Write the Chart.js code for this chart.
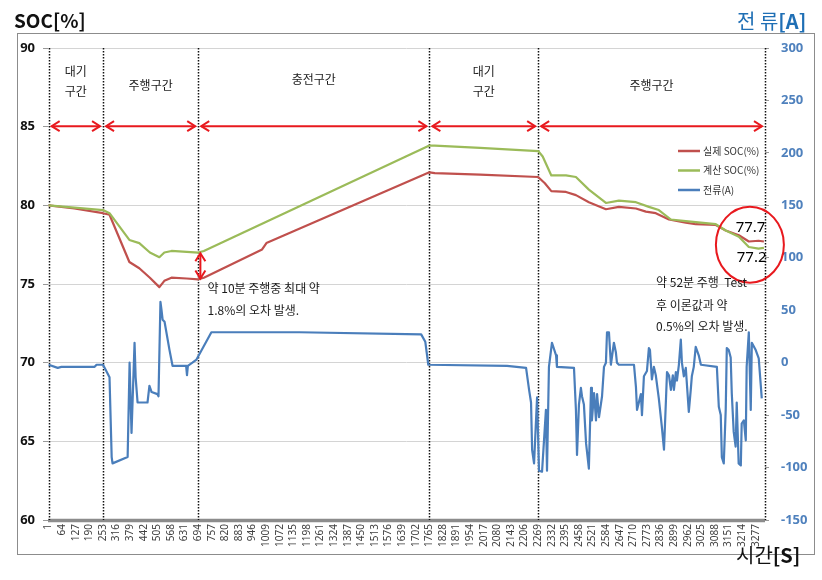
<!DOCTYPE html>
<html>
<head>
<meta charset="utf-8">
<script src="https://cdn.jsdelivr.net/npm/chart.js@4.4.1/dist/chart.umd.min.js"></script>
<style>
html, body { margin: 0; padding: 0; background: #fff; }
#wrap { position: relative; width: 822px; height: 580px; }
</style>
</head>
<body>
<div id="wrap"><canvas id="socChart" width="822" height="580"></canvas></div>
<script>
// x tick labels (seconds)
var tickTimes = [1,64,127,190,253,316,379,442,505,568,631,694,757,820,883,946,1009,1072,1135,1198,
  1261,1324,1387,1450,1513,1576,1639,1702,1765,1828,1891,1954,2017,2080,2143,2206,2269,2332,2395,
  2458,2521,2584,2647,2710,2773,2836,2899,2962,3025,3088,3151,3214,3277];

// section boundaries and names
var sectionBounds = [1, 253, 694, 1765, 2269, 3320];
var sectionNames = [["대기", "구간"], ["주행구간"], ["충전구간"], ["대기", "구간"], ["주행구간"]];

// 실제 SOC(%)
var realTime = [1,120,253,283,375,421,470,514,537,570,640,694,720,990,1010,1765,1790,2000,2269,2300,2330,
  2398,2444,2504,2583,2643,2722,2768,2814,2875,2953,2999,3092,3138,3199,3245,3290,3315];
var realSoc = [80.0,79.8,79.5,79.4,76.4,76.0,75.4,74.8,75.2,75.4,75.35,75.3,75.4,77.2,77.6,82.1,82.05,81.95,81.8,81.4,80.9,
  80.85,80.65,80.2,79.75,79.9,79.8,79.6,79.5,79.1,78.9,78.8,78.75,78.4,78.1,77.7,77.75,77.7];

// 계산 SOC(%)
var calcTime = [1,253,283,375,421,470,514,537,570,694,720,1765,1790,2000,2269,2290,2330,2398,2444,2504,
  2583,2643,2722,2782,2828,2884,2953,3092,3138,3199,3245,3290,3315];
var calcSoc = [80.0,79.7,79.5,77.8,77.6,77.0,76.7,77.0,77.1,77.0,77.1,83.8,83.8,83.65,83.45,83.1,81.9,81.9,81.8,81.0,
  80.15,80.3,80.2,79.9,79.7,79.1,79.0,78.8,78.4,78.0,77.35,77.25,77.3];

// 전류(A)
var curTime = [1,43,60,214,223,253,283,293,297,367,376,385,399,404,413,459,468,478,505,510,519,524,529,538,561,575,
  638,642,646,667,686,755,1163,1727,1746,1760,2125,2213,2227,2236,2241,2250,2264,2273,2287,2305,2310,2319,2333,
  2352,2356,2435,2444,2449,2458,2467,2472,2481,2491,2504,2514,2518,2528,2537,2542,2551,2565,2574,2583,2588,2597,
  2606,2620,2629,2634,2643,2713,2722,2727,2745,2750,2759,2773,2782,2787,2796,2805,2814,2828,2842,2852,2861,2866,
  2875,2884,2893,2898,2907,2912,2921,2930,2935,2944,2953,2967,2976,2981,2990,2999,3013,3023,3097,3106,3115,3120,
  3129,3138,3143,3152,3161,3166,3175,3184,3189,3198,3208,3212,3222,3231,3235,3245,3254,3259,3277,3291,3305];
var curAmp = [-2,-5,-4,-4,-2,-2,-14,-90,-96,-90,0,-67,19,-14,-38,-38,-22,-28,-30,-32,58,50,41,39,12,-3,
  -3,-12,-3,0,3,29,29,27,20,-2,-3,-5,-26,-38,-83,-96,-33,-103,-104,-45,-103,-4,19,
  7,-4,-5,-45,-88,-40,-24,-32,-40,-77,-101,-24,-55,-29,-55,-30,-52,-32,-4,0,29,29,
  -2,19,10,0,-2,-2,-23,-45,-30,-50,-13,-8,14,12,-16,-4,-12,-34,-61,-83,-36,-9,
  -12,-26,-12,-26,-9,-17,-2,22,0,-13,-5,-47,-26,-13,-4,15,7,-2,-4,-42,-50,-90,
  -96,-45,14,12,5,-29,-66,-80,-38,-96,-98,-58,-55,-74,-4,29,-45,19,12,4,-34];

var RED = "#c0504d", GREEN = "#9bbb59", BLUE = "#4a7ebb", ARROW = "#e8191e";
var KFONT = "'Noto Sans CJK KR', 'Noto Sans', sans-serif";

function pts(ts, vs) {
  return ts.map(function (t, i) { return { x: t, y: vs[i] }; });
}

function arrowHead(ctx, x, y, dx, dy) {
  // open V head pointing along (dx,dy)
  var len = 8, w = 5;
  ctx.beginPath();
  ctx.moveTo(x - dx * len - dy * w, y - dy * len + dx * w);
  ctx.lineTo(x, y);
  ctx.lineTo(x - dx * len + dy * w, y - dy * len - dx * w);
  ctx.stroke();
}

var decorations = {
  id: "decorations",
  beforeDraw: function (chart) {
    var ctx = chart.ctx;
    ctx.save();
    ctx.fillStyle = "#fff";
    ctx.fillRect(0, 0, chart.width, chart.height);
    ctx.strokeStyle = "#8c8c8c";
    ctx.lineWidth = 1;
    ctx.strokeRect(17.5, 33.5, 797, 521);
    ctx.restore();
  },
  beforeDatasetsDraw: function (chart) {
    var ctx = chart.ctx, xs = chart.scales.x, a = chart.chartArea;
    ctx.save();
    // thick category axis line
    ctx.strokeStyle = "#8c8c8c";
    ctx.lineWidth = 3.5;
    ctx.beginPath();
    ctx.moveTo(a.left, a.bottom + 0.5);
    ctx.lineTo(a.right, a.bottom + 0.5);
    ctx.stroke();

    ctx.strokeStyle = "#111";
    ctx.lineWidth = 1.5;
    ctx.setLineDash([1.5, 1.5]);
    sectionBounds.forEach(function (t) {
      var px = Math.round(xs.getPixelForValue(t)) + 0.5;
      ctx.beginPath();
      ctx.moveTo(px, a.top);
      ctx.lineTo(px, a.bottom);
      ctx.stroke();
    });
    ctx.restore();
  },
  afterDatasetsDraw: function (chart) {
    var ctx = chart.ctx, xs = chart.scales.x, ys = chart.scales.y, a = chart.chartArea;
    ctx.save();

    // section names
    ctx.fillStyle = "#1a1a1a";
    ctx.font = "12px " + KFONT;
    ctx.textAlign = "center";
    ctx.textBaseline = "middle";
    sectionNames.forEach(function (lines, i) {
      var cx = (xs.getPixelForValue(sectionBounds[i]) + xs.getPixelForValue(sectionBounds[i + 1])) / 2;
      var cy = ys.getPixelForValue(87.6);
      if (lines.length === 2) {
        ctx.fillText(lines[0], cx, cy - 14);
        ctx.fillText(lines[1], cx, cy + 6);
      } else {
        ctx.fillText(lines[0], cx, cy - (i === 2 ? 6 : 0));
      }
    });

    // horizontal double arrows at 85 %
    ctx.strokeStyle = ARROW;
    ctx.lineWidth = 2;
    var ay = ys.getPixelForValue(85) - 0.5;
    for (var i = 0; i < sectionBounds.length - 1; i++) {
      var x0 = xs.getPixelForValue(sectionBounds[i]) + 3;
      var x1 = xs.getPixelForValue(sectionBounds[i + 1]) - 3;
      ctx.beginPath();
      ctx.moveTo(x0, ay);
      ctx.lineTo(x1, ay);
      ctx.stroke();
      arrowHead(ctx, x0, ay, -1, 0);
      arrowHead(ctx, x1, ay, 1, 0);
    }

    // vertical double arrow for max error
    var vx = xs.getPixelForValue(704);
    var vy0 = ys.getPixelForValue(76.95), vy1 = ys.getPixelForValue(75.35);
    ctx.beginPath();
    ctx.moveTo(vx, vy0);
    ctx.lineTo(vx, vy1);
    ctx.stroke();
    arrowHead(ctx, vx, vy0, 0, -1);
    arrowHead(ctx, vx, vy1, 0, 1);

    // circle round the end values
    ctx.beginPath();
    ctx.ellipse(xs.getPixelForValue(3250), ys.getPixelForValue(77.5), 34, 38, 0, 0, Math.PI * 2);
    ctx.stroke();

    ctx.fillStyle = "#000";
    ctx.font = "15px 'Noto Sans', sans-serif";
    ctx.textAlign = "center";
    ctx.fillText("77.7", xs.getPixelForValue(3253), ys.getPixelForValue(78.55));
    ctx.fillText("77.2", xs.getPixelForValue(3258), ys.getPixelForValue(76.7));

    // notes
    ctx.font = "12px " + KFONT;
    ctx.textAlign = "left";
    ctx.fillStyle = "#1a1a1a";
    ctx.fillText("약 10분 주행중 최대 약", xs.getPixelForValue(737), ys.getPixelForValue(74.7));
    ctx.fillText("1.8%의 오차 발생.", xs.getPixelForValue(737), ys.getPixelForValue(73.3));
    ctx.fillText("약 52분 주행  Test", xs.getPixelForValue(2815), ys.getPixelForValue(75.1));
    ctx.fillText("후 이론값과 약", xs.getPixelForValue(2815), ys.getPixelForValue(73.66));
    ctx.fillText("0.5%의 오차 발생.", xs.getPixelForValue(2815), ys.getPixelForValue(72.33));

    // legend
    var lx = a.right - 87, ly = a.top + 103;
    var items = [["실제 SOC(%)", RED], ["계산 SOC(%)", GREEN], ["전류(A)", BLUE]];
    ctx.font = "10px " + KFONT;
    items.forEach(function (it, k) {
      var y = ly + k * 19.5;
      ctx.strokeStyle = it[1];
      ctx.lineWidth = 2.5;
      ctx.beginPath();
      ctx.moveTo(lx, y);
      ctx.lineTo(lx + 22, y);
      ctx.stroke();
      ctx.fillStyle = "#333";
      ctx.fillText(it[0], lx + 25, y);
    });

    ctx.restore();
  },
  afterDraw: function (chart) {
    var ctx = chart.ctx;
    ctx.save();
    ctx.textBaseline = "middle";
    ctx.textAlign = "left";
    ctx.fillStyle = "#111";
    ctx.font = "bold 19px " + KFONT;
    ctx.fillText("SOC[%]", 14, 21);

    ctx.fillStyle = "#1f6fb5";
    ctx.font = "20px " + KFONT;
    ctx.fillText("전 류", 737, 21);
    var w = ctx.measureText("전 류").width;
    ctx.font = "bold 20px " + KFONT;
    ctx.fillText("[A]", 737 + w, 21);

    ctx.fillStyle = "#111";
    ctx.font = "20px " + KFONT;
    ctx.fillText("시간", 736, 555);
    w = ctx.measureText("시간").width;
    ctx.font = "bold 20px " + KFONT;
    ctx.fillText("[S]", 736 + w, 555);
    ctx.restore();
  }
};

Chart.defaults.font.family = "'Noto Sans', sans-serif";

new Chart("socChart", {
  type: "line",
  data: {
    datasets: [{
      label: "전류(A)",
      data: pts(curTime, curAmp),
      yAxisID: "y1",
      borderColor: BLUE,
      borderWidth: 2.2,
      order: 1
    }, {
      label: "계산 SOC(%)",
      data: pts(calcTime, calcSoc),
      yAxisID: "y",
      borderColor: GREEN,
      borderWidth: 2.2,
      order: 2
    }, {
      label: "실제 SOC(%)",
      data: pts(realTime, realSoc),
      yAxisID: "y",
      borderColor: RED,
      borderWidth: 2.2,
      order: 3
    }]
  },
  options: {
    responsive: false,
    animation: false,
    events: [],
    elements: { point: { radius: 0 }, line: { tension: 0, borderJoinStyle: "round", fill: false } },
    layout: { padding: { left: 0, right: 0, top: 48, bottom: 20 } },
    plugins: { legend: { display: false }, title: { display: false }, tooltip: { enabled: false } },
    scales: {
      x: {
        type: "linear",
        min: -2,
        max: 3320,
        grid: { display: false, drawTicks: false },
        border: { display: false },
        ticks: {
          autoSkip: false,
          minRotation: 90,
          maxRotation: 90,
          padding: 4,
          color: "#404040",
          font: { size: 10 },
          callback: function (v) { return String(v); }
        },
        afterBuildTicks: function (scale) {
          scale.ticks = tickTimes.map(function (v) { return { value: v }; });
        },
        afterFit: function (scale) { scale.height = 40; }
      },
      y: {
        position: "left",
        min: 60,
        max: 90,
        grid: { color: "#d4d4d4", lineWidth: 1, tickLength: 5, tickColor: "#999" },
        border: { display: false },
        ticks: { stepSize: 5, padding: 8, color: "#111", font: { size: 13, weight: "bold" } },
        afterFit: function (scale) { scale.width = 48; }
      },
      y1: {
        position: "right",
        min: -150,
        max: 300,
        grid: { drawOnChartArea: false, tickLength: 4, tickColor: "#999" },
        border: { display: false },
        ticks: { stepSize: 50, padding: 12, color: "#4f81bd", font: { size: 13, weight: "bold" } },
        afterFit: function (scale) { scale.width = 57; }
      }
    }
  },
  plugins: [decorations]
});
</script>
</body>
</html>
